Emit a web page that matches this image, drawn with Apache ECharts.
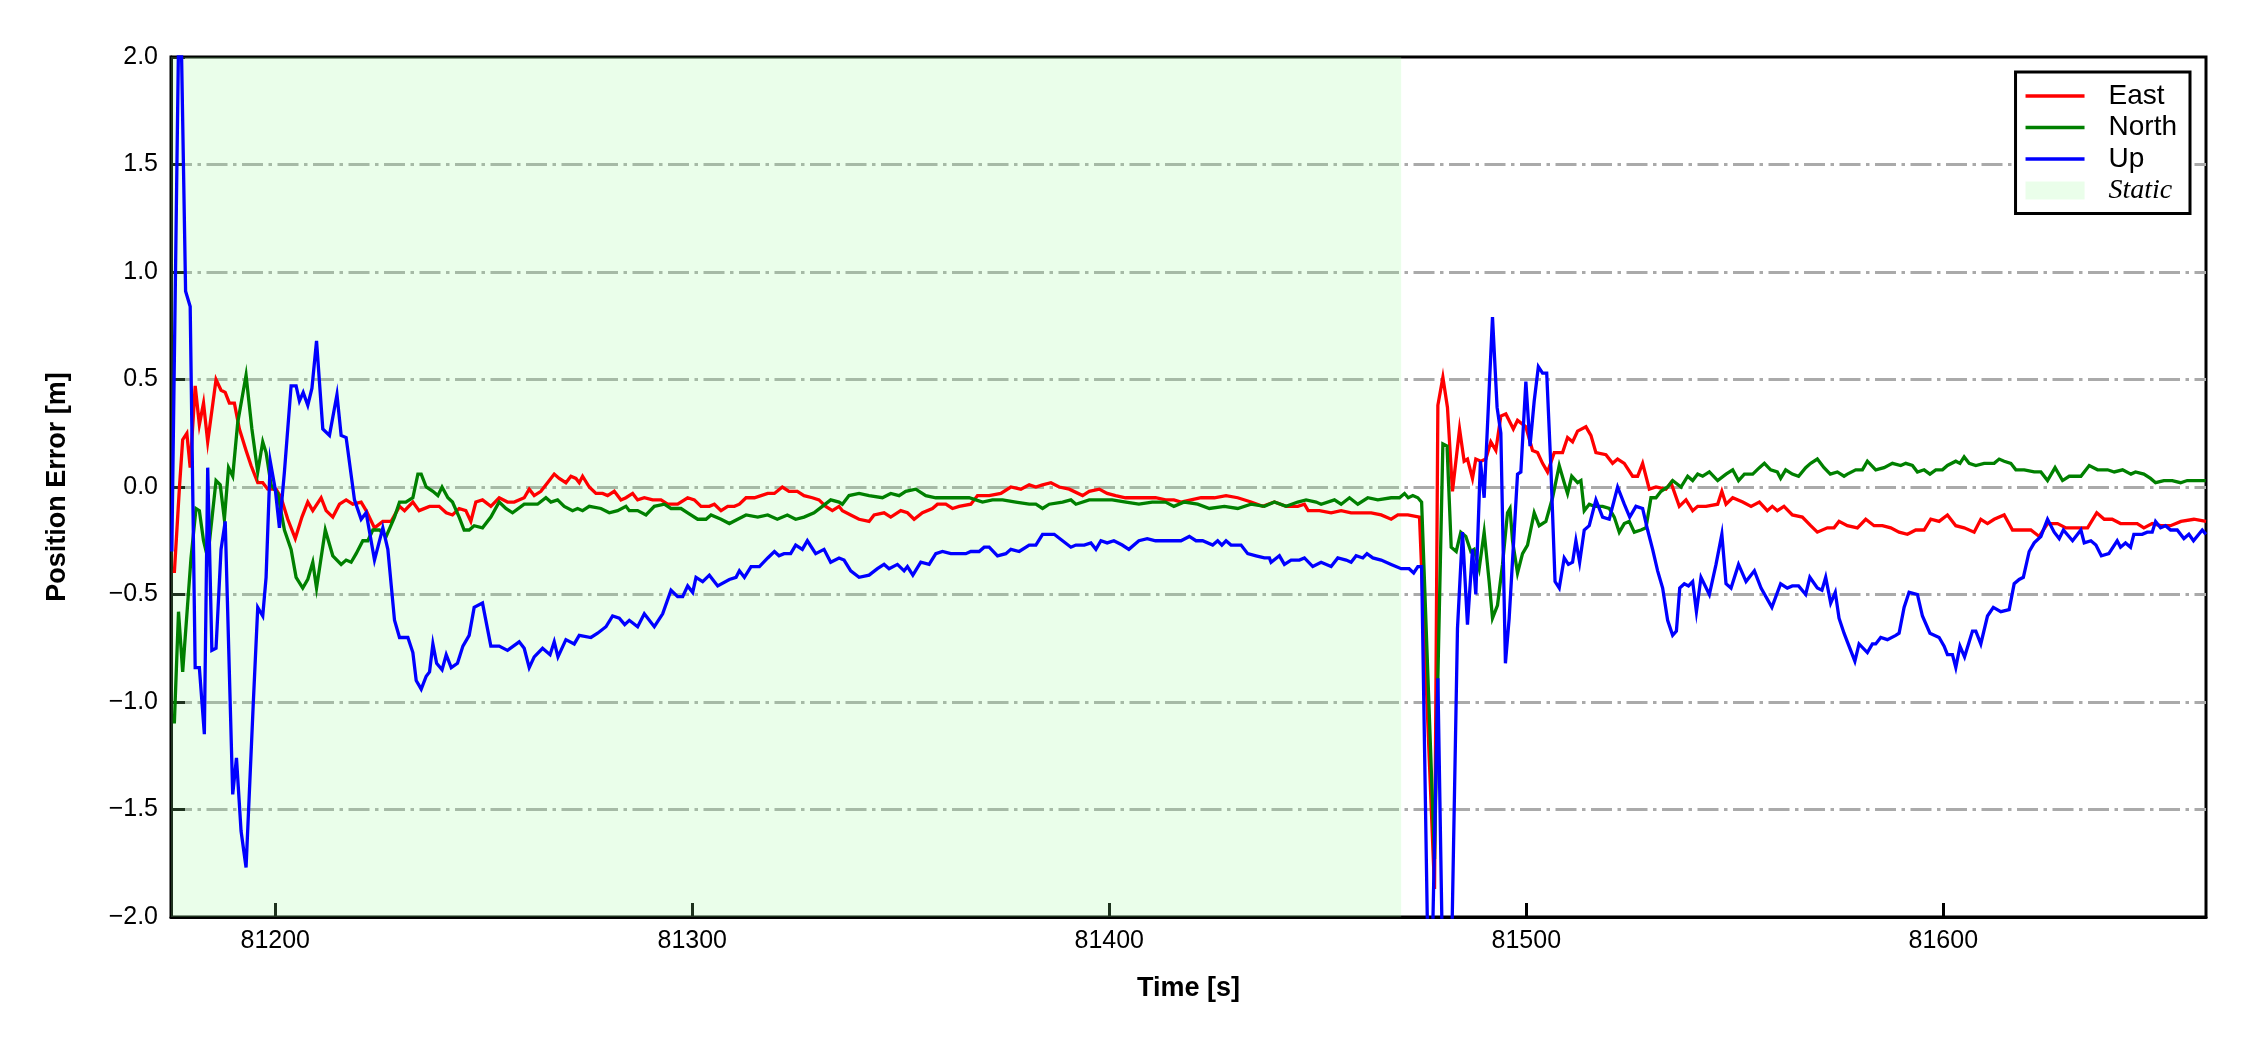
<!DOCTYPE html>
<html>
<head>
<meta charset="utf-8">
<script src="https://cdn.jsdelivr.net/npm/echarts@6/dist/echarts.min.js"></script>
<style>
html,body{margin:0;padding:0;background:#fff;}
#chart{width:2250px;height:1050px;}
</style>
</head>
<body>
<div id="chart"></div>
<script>
// ---- data ----
const seriesNames = ['East', 'North', 'Up', 'Static'];
const xTicks = [81200, 81300, 81400, 81500, 81600];
const xRange = [81175, 81663];
const yRange = [-2, 2];
const staticRange = [81175, 81470];

const eastData = [
[81175.8,-0.40],[81177,-0.01],[81177.8,0.22],[81178.8,0.25],[81179.6,0.09],[81180.8,0.47],[81181.8,0.29],[81182.8,0.39],[81183.8,0.21],[81185.8,0.50],[81187,0.45],[81188,0.44],[81189,0.39],[81190.2,0.39],[81191.4,0.27],[81193,0.17],[81194.2,0.10],[81195.8,0.02],[81197,0.02],[81198.2,-0.01],[81200.2,-0.01],[81201.4,-0.05],[81203,-0.15],[81204.8,-0.24],[81206.4,-0.14],[81207.8,-0.07],[81209,-0.11],[81211,-0.05],[81212.2,-0.11],[81213.8,-0.14],[81215.4,-0.08],[81217,-0.06],[81218.6,-0.08],[81220.6,-0.07],[81221.8,-0.11],[81223.8,-0.19],[81225.8,-0.16],[81227.8,-0.16],[81229.8,-0.09],[81231,-0.11],[81233,-0.07],[81234.5,-0.11],[81237,-0.09],[81239.3,-0.09],[81241,-0.12],[81242.5,-0.13],[81244.1,-0.10],[81245.7,-0.11],[81246.9,-0.16],[81248.1,-0.07],[81249.7,-0.06],[81251.7,-0.09],[81253.7,-0.05],
[81255.7,-0.07],[81257.3,-0.07],[81259.7,-0.05],[81260.9,-0.01],[81262.1,-0.04],[81263.7,-0.02],[81265.3,0.02],[81266.9,0.06],[81268.1,0.04],[81269.7,0.02],[81270.9,0.05],[81272.1,0.04],[81272.9,0.02],[81273.7,0.05],[81275.3,0.00],[81276.9,-0.03],[81278.5,-0.03],[81279.7,-0.04],[81281.3,-0.02],[81282.9,-0.06],[81284.1,-0.05],[81285.7,-0.03],[81286.9,-0.06],[81288.5,-0.05],[81290.5,-0.06],[81292.5,-0.06],[81294.1,-0.08],[81296.5,-0.08],[81298.9,-0.05],[81300.5,-0.06],[81302.1,-0.09],[81304.1,-0.09],[81305.3,-0.08],[81306.9,-0.11],[81308.5,-0.09],[81310.1,-0.09],[81311.3,-0.08],[81312.9,-0.05],[81314.9,-0.05],[81316.5,-0.04],[81318.1,-0.03],[81319.7,-0.03],[81321.6,0.00],[81323.2,-0.02],[81325.2,-0.02],[81326.8,-0.04],[81328.8,-0.05],[81330.4,-0.06],[81332,-0.09],[81333.6,-0.11],[81335.2,-0.09],
[81336,-0.11],[81338,-0.13],[81340,-0.15],[81342.4,-0.16],[81343.6,-0.13],[81346,-0.12],[81347.6,-0.14],[81350,-0.11],[81351.6,-0.12],[81353.2,-0.15],[81355.2,-0.12],[81357.6,-0.10],[81358.8,-0.08],[81360.8,-0.08],[81362.4,-0.10],[81364,-0.09],[81366.8,-0.08],[81368.4,-0.04],[81371.2,-0.04],[81374,-0.03],[81376.4,0.00],[81378.8,-0.01],[81380.8,0.01],[81382.4,0.00],[81384,0.01],[81386,0.02],[81388,0.00],[81390.4,-0.01],[81393.6,-0.04],[81395.2,-0.02],[81397.6,-0.01],[81399.5,-0.03],[81401.5,-0.04],[81403.9,-0.05],[81406.3,-0.05],[81408.7,-0.05],[81411.1,-0.05],[81413.5,-0.06],[81415.5,-0.06],
[81417.2,-0.07],[81419.6,-0.06],[81422,-0.05],[81425.2,-0.05],[81428,-0.04],[81430.8,-0.05],[81434,-0.07],[81436.8,-0.09],[81439.6,-0.07],[81442.4,-0.09],[81445.2,-0.09],[81446.8,-0.08],[81447.7,-0.11],[81450.4,-0.11],[81453.2,-0.12],[81455.6,-0.11],[81458,-0.12],[81460.4,-0.12],[81462.8,-0.12],[81465.2,-0.13],[81467.6,-0.15],[81469.2,-0.13],[81471.6,-0.13],[81474.4,-0.14],[81478,-1.87],[81478.8,0.38],[81480,0.51],[81481.1,0.37],[81482.3,-0.02],[81484,0.27],[81485.1,0.12],[81485.9,0.13],[81487.1,0.04],[81487.9,0.13],[81489.1,0.12],[81490.3,0.13],[81491.5,0.21],[81492.7,0.17],[81493.9,0.33],[81495.1,0.34],
[81496.9,0.27],[81497.9,0.31],[81499.9,0.28],[81501.5,0.17],[81502.7,0.16],[81503.9,0.11],[81505.1,0.07],[81506.7,0.16],[81508.7,0.16],[81509.9,0.23],[81511.1,0.21],[81512.3,0.26],[81514.3,0.28],[81515.5,0.24],[81516.7,0.16],[81519.1,0.15],[81520.7,0.11],[81521.9,0.13],[81523.5,0.11],[81525.5,0.05],[81526.7,0.05],[81527.9,0.11],[81529.5,-0.01],[81531.1,0.00],[81533.5,-0.01],[81534.7,0.02],[81536.7,-0.09],[81538.3,-0.06],[81539.9,-0.11],[81541.1,-0.09],[81543.1,-0.09],[81545.9,-0.08],[81546.9,-0.02],[81547.9,-0.08],[81549.5,-0.05],[81551.9,-0.07],[81553.9,-0.09],[81555.9,-0.07],[81557.8,-0.11],[81559,-0.09],[81560.2,-0.11],[81561.8,-0.09],[81563.8,-0.13],[81566.2,-0.14],[81568.2,-0.18],[81569.8,-0.21],[81572.2,-0.19],[81573.8,-0.19],[81575,-0.16],
[81577,-0.18],[81579.4,-0.19],[81581.4,-0.15],[81583.4,-0.18],[81585.4,-0.18],[81587.4,-0.19],[81589.4,-0.21],[81591.4,-0.22],[81593.4,-0.20],[81595.4,-0.20],[81597,-0.15],[81599,-0.16],[81601,-0.13],[81603,-0.18],[81605,-0.19],[81607.4,-0.21],[81609,-0.15],[81610.6,-0.17],[81612.2,-0.15],[81614.6,-0.13],[81616.6,-0.20],[81618.6,-0.20],[81621,-0.20],[81623,-0.23],[81625,-0.17],[81627.4,-0.17],[81629.4,-0.19],[81631.4,-0.19],[81634.6,-0.19],[81636.8,-0.12],[81638.6,-0.15],[81640.5,-0.15],[81642.5,-0.17],[81644.9,-0.17],[81646.5,-0.17],[81648.1,-0.19],[81650.1,-0.17],[81652.1,-0.18],[81654.5,-0.18],[81657,-0.16],[81660.1,-0.15],[81663,-0.16]
];

const northData = [
[81175.8,-1.10],[81176.8,-0.58],[81177.8,-0.86],[81179.8,-0.33],[81181,-0.10],[81181.8,-0.11],[81182.8,-0.25],[81183.8,-0.33],[81184.8,-0.15],[81185.8,0.03],[81186.8,0.01],[81187.8,-0.15],[81188.8,0.09],[81189.8,0.05],[81191,0.30],[81193,0.52],[81194.4,0.27],[81195.8,0.07],[81197,0.21],[81197.8,0.16],[81199,0.01],[81200.6,-0.03],[81202.2,-0.20],[81203.8,-0.29],[81205,-0.42],[81206.6,-0.47],[81207.8,-0.43],[81209,-0.35],[81209.9,-0.47],[81212,-0.20],[81213.8,-0.32],[81215.8,-0.36],[81217,-0.34],[81218.2,-0.35],[81219.4,-0.31],[81221,-0.25],[81222.2,-0.25],[81223.4,-0.20],[81225,-0.20],[81226.6,-0.23],[81228.6,-0.14],[81229.8,-0.07],[81231.3,-0.07],[81233,-0.05],[81234.2,0.06],[81235,0.06],[81236.2,0.00],[81237.8,-0.02],[81239,-0.04],[81240,0.00],[81241.4,-0.05],[81242.5,-0.07],[81244.1,-0.14],[81245.3,-0.20],[81246.5,-0.20],[81247.7,-0.18],[81249.7,-0.19],[81251.7,-0.14],[81253.7,-0.07],
[81255.3,-0.10],[81256.9,-0.12],[81259.7,-0.08],[81261.3,-0.08],[81262.9,-0.08],[81264.9,-0.05],[81266.1,-0.07],[81267.7,-0.06],[81269.3,-0.09],[81271.3,-0.11],[81272.5,-0.10],[81273.7,-0.11],[81275.3,-0.09],[81278.1,-0.10],[81280.1,-0.12],[81282.1,-0.11],[81284.1,-0.09],[81284.9,-0.11],[81286.9,-0.11],[81288.9,-0.13],[81290.9,-0.09],[81293.3,-0.08],[81294.9,-0.10],[81297.3,-0.10],[81298.9,-0.12],[81301.3,-0.15],[81303.3,-0.15],[81304.5,-0.13],[81306.9,-0.15],[81308.9,-0.17],[81310.9,-0.15],[81312.9,-0.13],[81315.7,-0.14],[81318.1,-0.13],[81320.4,-0.15],[81322.8,-0.13],[81324.8,-0.15],[81326.8,-0.14],[81329.2,-0.12],[81331.2,-0.09],[81333.2,-0.06],[81335.2,-0.07],
[81336,-0.08],[81337.6,-0.04],[81340,-0.03],[81342.4,-0.04],[81345.6,-0.05],[81347.6,-0.03],[81349.6,-0.04],[81351.2,-0.02],[81353.6,-0.01],[81356,-0.04],[81358.4,-0.05],[81360,-0.05],[81363.2,-0.05],[81366.4,-0.05],[81368,-0.06],[81369.6,-0.07],[81372,-0.06],[81374.4,-0.06],[81377.6,-0.07],[81380.8,-0.08],[81382.4,-0.08],[81384,-0.10],[81385.6,-0.08],[81388.8,-0.07],[81390.8,-0.06],[81392,-0.08],[81395.2,-0.06],[81397.6,-0.06],[81400.7,-0.06],[81404,-0.07],[81407.1,-0.08],[81410.3,-0.07],[81413.5,-0.07],[81415.5,-0.09],
[81418,-0.07],[81421.2,-0.08],[81424,-0.10],[81427.6,-0.09],[81430.8,-0.10],[81434,-0.08],[81437.2,-0.09],[81439.6,-0.07],[81442.4,-0.09],[81445.2,-0.07],[81447.2,-0.06],[81449.6,-0.07],[81450.8,-0.08],[81454,-0.06],[81455.6,-0.08],[81457.6,-0.05],[81459.6,-0.08],[81462,-0.05],[81464.4,-0.06],[81467.6,-0.05],[81469.6,-0.05],[81470.8,-0.03],[81471.7,-0.05],[81472.8,-0.04],[81474,-0.05],[81474.9,-0.07],[81478,-1.73],[81478.8,-0.89],[81480,0.20],[81481,0.19],[81482,-0.28],[81483.2,-0.30],[81484.3,-0.21],[81485.5,-0.23],[81486.7,-0.30],[81487.5,-0.29],[81488.7,-0.38],[81489.9,-0.21],[81491.1,-0.44],[81491.9,-0.61],[81493.1,-0.55],[81494.3,-0.36],[81495.5,-0.12],[81496.1,-0.10],
[81496.7,-0.25],[81497.9,-0.40],[81499.1,-0.31],[81500.3,-0.27],[81501.9,-0.12],[81503.1,-0.18],[81504.7,-0.16],[81506.3,-0.05],[81507.9,0.10],[81509.1,0.02],[81509.9,-0.03],[81510.9,0.05],[81512.3,0.02],[81513.1,0.03],[81513.9,-0.11],[81515.1,-0.08],[81516.3,-0.09],[81518.3,-0.09],[81519.9,-0.10],[81521.1,-0.14],[81522.3,-0.21],[81523.5,-0.17],[81524.7,-0.16],[81525.9,-0.21],[81527.5,-0.20],[81528.7,-0.19],[81529.9,-0.05],[81531.1,-0.05],[81532.3,-0.02],[81533.9,0.00],[81535.1,0.03],[81537.1,0.00],[81538.7,0.05],[81539.9,0.03],[81541.1,0.06],[81542.3,0.05],[81543.9,0.07],[81545.9,0.03],[81547.9,0.06],[81549.5,0.08],[81550.9,0.03],[81552.3,0.06],[81554.3,0.06],[81555.9,0.09],[81557.1,0.11],[81558.6,0.08],[81560.2,0.07],[81561,0.04],[81562.2,0.08],[81563.8,0.06],[81565.3,0.05],[81567,0.09],[81568.2,0.11],[81569.8,0.13],[81571.4,0.09],[81572.9,0.06],[81574.6,0.07],[81576.2,0.05],
[81577,0.06],[81579,0.08],[81580.6,0.08],[81581.8,0.12],[81583.8,0.08],[81585.8,0.09],[81587.8,0.11],[81589.8,0.10],[81591,0.11],[81592.6,0.10],[81593.8,0.07],[81595.4,0.08],[81596.8,0.06],[81598.2,0.08],[81599.8,0.08],[81601,0.10],[81603,0.12],[81604,0.11],[81605,0.14],[81606.2,0.11],[81607.8,0.10],[81609.8,0.11],[81612.2,0.11],[81613.4,0.13],[81614.6,0.12],[81616.2,0.11],[81617.4,0.08],[81619.4,0.08],[81621.8,0.07],[81623.4,0.07],[81625,0.03],[81626.8,0.09],[81628.6,0.03],[81630.2,0.05],[81633,0.05],[81635,0.10],[81637,0.08],[81639.4,0.08],[81641,0.07],[81643,0.08],[81645,0.06],[81646.1,0.07],[81648.1,0.06],[81649.7,0.04],[81650.9,0.02],[81652.9,0.03],[81654.9,0.03],[81656.9,0.02],[81658.5,0.03],[81660.9,0.03],[81662.9,0.03]
];

const upData = [
[81175.2,-0.30],[81177.1,2.50],[81178.5,0.91],[81179.6,0.84],[81180.8,-0.84],[81181.8,-0.84],[81183,-1.15],[81183.8,0.09],[81184.8,-0.76],[81185.8,-0.75],[81187,-0.29],[81188,-0.16],[81189.8,-1.43],[81190.7,-1.26],[81191.8,-1.60],[81193,-1.77],[81194.7,-1.02],[81195.8,-0.56],[81197,-0.60],[81197.8,-0.42],[81198.8,0.12],[81200,-0.01],[81201,-0.19],[81202.2,0.07],[81203.8,0.47],[81205,0.47],[81205.8,0.40],[81206.7,0.44],[81207.8,0.38],[81208.8,0.46],[81209.9,0.68],[81211.4,0.27],[81213,0.24],[81214.8,0.43],[81215.8,0.24],[81217,0.23],[81219,-0.06],[81220.6,-0.15],[81221.8,-0.12],[81223.8,-0.34],[81225.8,-0.19],[81227,-0.29],[81228.6,-0.62],[81229.8,-0.70],[81231.8,-0.70],[81233,-0.77],[81233.8,-0.90],[81235,-0.94],[81236.2,-0.88],[81237,-0.86],[81237.8,-0.73],[81238.7,-0.82],[81240,-0.85],[81241,-0.78],[81242.2,-0.84],[81243.7,-0.82],[81245,-0.74],[81246.5,-0.69],[81247.7,-0.56],[81249.7,-0.54],[81251.7,-0.74],[81253.7,-0.74],
[81255.7,-0.76],[81258.5,-0.72],[81259.7,-0.75],[81260.9,-0.84],[81262.1,-0.79],[81264.1,-0.75],[81265.9,-0.78],[81266.9,-0.72],[81267.8,-0.79],[81269.7,-0.71],[81271.7,-0.73],[81272.9,-0.69],[81275.7,-0.70],[81277.3,-0.68],[81279.3,-0.65],[81280.9,-0.60],[81282.5,-0.61],[81283.8,-0.64],[81284.9,-0.62],[81286.9,-0.65],[81288.5,-0.59],[81290.9,-0.65],[81292.9,-0.59],[81294.9,-0.48],[81296.5,-0.51],[81297.7,-0.51],[81298.9,-0.46],[81300.1,-0.49],[81300.9,-0.42],[81302.5,-0.44],[81304.1,-0.41],[81306.1,-0.46],[81308.9,-0.43],[81310.5,-0.42],[81311.3,-0.39],[81312.5,-0.42],[81314.1,-0.37],[81316.1,-0.37],[81318.1,-0.33],[81319.7,-0.30],[81320.8,-0.32],[81322,-0.31],[81323.6,-0.31],[81324.8,-0.27],[81326.4,-0.29],[81327.6,-0.25],[81329.6,-0.31],[81331.6,-0.29],[81333.2,-0.35],[81335.2,-0.33],
[81336.4,-0.34],[81338,-0.39],[81340,-0.42],[81342.4,-0.41],[81344.4,-0.38],[81346,-0.36],[81347.2,-0.38],[81349.2,-0.36],[81350.8,-0.39],[81351.6,-0.37],[81352.9,-0.41],[81354.8,-0.35],[81356.8,-0.36],[81358.4,-0.31],[81360,-0.30],[81362,-0.31],[81364,-0.31],[81365.6,-0.31],[81366.8,-0.30],[81368.8,-0.30],[81370,-0.28],[81371.2,-0.28],[81373.2,-0.32],[81375.2,-0.31],[81376.4,-0.29],[81378.4,-0.30],[81380.8,-0.27],[81382.4,-0.27],[81384,-0.22],[81386.8,-0.22],[81388.8,-0.25],[81390.8,-0.28],[81392,-0.27],[81394,-0.27],[81395.6,-0.26],[81396.8,-0.29],[81398,-0.25],[81399.5,-0.26],[81401.1,-0.25],[81403.1,-0.27],[81404.7,-0.29],[81407.1,-0.25],[81409.1,-0.24],[81411.1,-0.25],[81413.5,-0.25],[81415.5,-0.25],
[81417.2,-0.25],[81419.2,-0.23],[81420.8,-0.25],[81422.4,-0.25],[81424.8,-0.27],[81426,-0.25],[81427,-0.27],[81428,-0.25],[81429.2,-0.27],[81431.6,-0.27],[81433.2,-0.31],[81435.2,-0.32],[81437.2,-0.33],[81438.4,-0.33],[81438.8,-0.35],[81440.8,-0.32],[81442,-0.36],[81443.6,-0.34],[81445.6,-0.34],[81446.8,-0.33],[81448.8,-0.37],[81450.8,-0.35],[81453.2,-0.37],[81454.8,-0.33],[81456.8,-0.34],[81458,-0.35],[81459.2,-0.32],[81460.8,-0.33],[81461.8,-0.31],[81463.2,-0.33],[81465.2,-0.34],[81467.6,-0.36],[81470,-0.38],[81471.9,-0.38],[81473,-0.40],[81474,-0.37],[81474.9,-0.37],[81476.3,-2.05],[81477,-2.60],[81478.8,-0.89],[81480,-2.30],[81481.2,-2.60],[81482.2,-2.05],[81483.5,-0.66],[81484.7,-0.21],[81485.9,-0.64],[81487.1,-0.29],[81487.9,-0.50],[81489,0.12],[81489.9,-0.05],[81491.9,0.79],[81493,0.37],[81493.9,0.25],[81495,-0.82],
[81495.9,-0.61],[81497.1,-0.21],[81497.9,0.06],[81498.7,0.07],[81499.9,0.49],[81500.9,0.19],[81501.9,0.40],[81502.9,0.56],[81503.9,0.53],[81504.9,0.53],[81505.9,0.09],[81506.9,-0.44],[81507.9,-0.47],[81509.1,-0.33],[81510.1,-0.36],[81511.1,-0.35],[81511.9,-0.25],[81512.8,-0.35],[81513.9,-0.20],[81515.1,-0.18],[81516.7,-0.06],[81518.3,-0.14],[81519.9,-0.15],[81521.9,0.00],[81523.5,-0.08],[81524.8,-0.14],[81526.3,-0.09],[81527.9,-0.10],[81529.1,-0.20],[81530.3,-0.29],[81531.5,-0.39],[81532.7,-0.47],[81533.9,-0.62],[81535.1,-0.69],[81536,-0.67],[81536.8,-0.47],[81537.9,-0.45],[81538.9,-0.46],[81539.9,-0.44],[81540.8,-0.58],[81541.9,-0.42],[81543.9,-0.50],[81545.5,-0.36],[81546.9,-0.22],[81547.9,-0.45],[81549.1,-0.47],[81550.9,-0.36],[81552.7,-0.44],[81554.7,-0.39],[81556.3,-0.47],[81558.9,-0.56],[81561,-0.45],[81562.6,-0.47],[81563.8,-0.46],[81565.3,-0.46],[81567,-0.50],[81568,-0.42],[81569.8,-0.47],[81570.9,-0.48],[81571.8,-0.42],[81573,-0.54],[81574.1,-0.49],[81575,-0.61],[81576.2,-0.68],
[81577,-0.72],[81578.8,-0.81],[81579.8,-0.73],[81581.8,-0.77],[81583,-0.73],[81583.8,-0.73],[81585,-0.70],[81586.6,-0.71],[81588.6,-0.69],[81589.4,-0.68],[81590.6,-0.56],[81591.8,-0.49],[81593.8,-0.50],[81595,-0.60],[81596.8,-0.68],[81599,-0.70],[81600.2,-0.74],[81601,-0.78],[81602.2,-0.78],[81603,-0.84],[81604,-0.74],[81605.1,-0.79],[81607,-0.67],[81607.8,-0.67],[81609,-0.73],[81610.6,-0.60],[81612,-0.56],[81613.8,-0.58],[81615.8,-0.57],[81617,-0.45],[81618.2,-0.43],[81619.2,-0.42],[81620.6,-0.30],[81621.8,-0.26],[81623.4,-0.23],[81625,-0.15],[81626.6,-0.21],[81627.8,-0.24],[81628.8,-0.20],[81631,-0.25],[81633,-0.20],[81633.8,-0.26],[81635.4,-0.25],[81636.6,-0.27],[81637.9,-0.32],[81639.7,-0.31],[81641.7,-0.25],[81642.5,-0.28],[81643.7,-0.26],[81644.9,-0.28],[81645.7,-0.22],[81647.7,-0.22],[81648.9,-0.21],[81650.1,-0.21],[81650.9,-0.16],[81652.1,-0.19],[81653.3,-0.18],[81654.5,-0.20],[81656.1,-0.20],[81657.7,-0.24],[81658.9,-0.22],[81660,-0.25],[81662.1,-0.20],[81663,-0.22]
];

// ---- chart ----
const FONT = '"Liberation Sans", Arial, Helvetica, sans-serif';
const staticFill = 'rgba(152,251,152,0.2)';
const gridDash = [21, 5.5, 3.5, 5.5];
const lineIcon = 'path://M0,0H59V3.3H0Z';

const chart = echarts.init(document.getElementById('chart'), null, {renderer: 'canvas'});

function lineSeries(name, data, color) {
  return {
    name: name, type: 'line', data: data, color: color,
    showSymbol: false, symbol: 'none', clip: true, z: 3,
    lineStyle: {width: 3.3, color: color, join: 'miter'},
    emphasis: {disabled: true}
  };
}

const legendText = {fontFamily: FONT, fontSize: 28, color: '#000', lineHeight: 26, padding: [0, 0, 0, 19]};

const option = {
  animation: false,
  backgroundColor: '#ffffff',
  grid: {left: 171, right: 44, top: 57, bottom: 133, show: true, borderColor: '#000', borderWidth: 3, backgroundColor: 'transparent'},
  legend: {
    orient: 'vertical', right: 60, top: 72,
    padding: [10, 13, 9, 10], itemGap: 3.5, itemWidth: 59, itemHeight: 18,
    symbolKeepAspect: true,
    backgroundColor: '#fff', borderColor: '#000', borderWidth: 3, borderRadius: 0,
    textStyle: legendText,
    data: [
      {name: seriesNames[0], icon: lineIcon},
      {name: seriesNames[1], icon: lineIcon},
      {name: seriesNames[2], icon: lineIcon},
      {name: seriesNames[3], icon: 'rect', itemStyle: {color: staticFill},
       textStyle: Object.assign({}, legendText, {fontFamily: '"Liberation Serif", "Times New Roman", serif', fontStyle: 'italic'})}
    ],
    selectedMode: false
  },
  xAxis: {
    type: 'value', min: xRange[0], max: xRange[1],
    name: 'Time [s]', nameLocation: 'middle', nameGap: 58,
    nameTextStyle: {fontFamily: FONT, fontSize: 27, fontWeight: 'bold', color: '#000'},
    axisLine: {show: true, onZero: false, lineStyle: {color: '#000', width: 3}},
    axisTick: {show: true, inside: true, length: 14, lineStyle: {color: '#000', width: 3}, customValues: xTicks},
    axisLabel: {fontFamily: FONT, fontSize: 25, color: '#000', margin: 12, customValues: xTicks, formatter: v => String(v)},
    splitLine: {show: false}
  },
  yAxis: {
    type: 'value', min: yRange[0], max: yRange[1], interval: 0.5,
    name: 'Position Error [m]', nameLocation: 'middle', nameGap: 100, nameRotate: 90,
    nameTextStyle: {fontFamily: FONT, fontSize: 27, fontWeight: 'bold', color: '#000'},
    axisLine: {show: true, onZero: false, lineStyle: {color: '#000', width: 3}},
    axisTick: {show: true, inside: true, length: 14, lineStyle: {color: '#000', width: 3}},
    axisLabel: {fontFamily: FONT, fontSize: 25, color: '#000', margin: 13,
      formatter: v => (v < 0 ? '\u2212' : '') + Math.abs(v).toFixed(1)},
    splitLine: {show: true, showMinLine: false, showMaxLine: false,
      lineStyle: {color: '#aaaaaa', width: 3, type: gridDash}}
  },
  series: [
    {
      name: seriesNames[3], type: 'line', data: [], color: staticFill, z: 1,
      lineStyle: {opacity: 0}, showSymbol: false, symbol: 'none',
      markArea: {silent: true, itemStyle: {color: staticFill},
        data: [[{xAxis: staticRange[0]}, {xAxis: staticRange[1]}]]}
    },
    lineSeries(seriesNames[0], eastData, '#ff0000'),
    lineSeries(seriesNames[1], northData, '#008000'),
    lineSeries(seriesNames[2], upData, '#0000ff')
  ]
};
chart.setOption(option);
</script>
</body>
</html>
